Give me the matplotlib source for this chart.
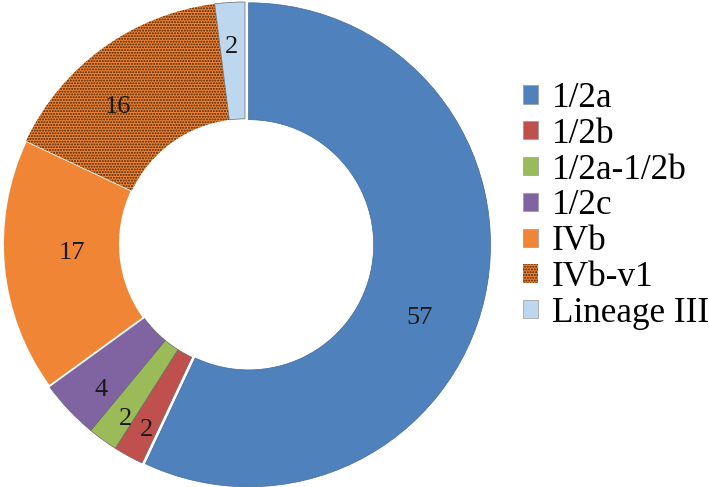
import numpy as np
import matplotlib.pyplot as plt
from matplotlib.patches import Patch

# date
categorii = ['1/2a', '1/2b', '1/2a-1/2b', '1/2c', 'IVb', 'IVb-v1', 'Lineage III']
valori = [57, 2, 2, 4, 17, 16, 2]
culori = ['#4F81BD', '#C0504D', '#9BBB59', '#8064A2', '#EF8535', '#EF8535', '#BDD7EE']

# pozitia etichetelor (raza relativa si decalaj de unghi)
raze_etichete = [0.785, 0.87, 0.876, 0.85, 0.715, 0.773, 0.814]
decalaj_unghi = [-10.3, 0.9, 1.8, 2.2, -2.4, 6.8, 0.4]

plt.rcParams['font.family'] = ['Liberation Serif', 'DejaVu Serif']

W, H = 709, 487
fig = plt.figure(figsize=(W / 100, H / 100), dpi=100)

R = 242.0
cx, cy = 245.0, 243.0
L = 1.03
size = 2 * L * R
ax = fig.add_axes([(cx - size / 2) / W, (cy - size / 2) / H, size / W, size / H])

wedges, _ = ax.pie(valori, colors=culori, startangle=90, counterclock=False,
                   radius=1.0, explode=[0.015, 0, 0, 0, 0, 0, 0],
                   wedgeprops=dict(width=0.483, edgecolor='#6a6a6a', linewidth=0.5))

# IVb cu margine alba, IVb-v1 cu puncte
wedges[4].set_edgecolor('white')
wedges[4].set_linewidth(1.3)
wedges[5].set_hatch('......')
wedges[5].set_edgecolor('#4a2206')
wedges[5].set_linewidth(0)
wedges[0].set_edgecolor('#3f6a9c')

for w, v, r, d in zip(wedges, valori, raze_etichete, decalaj_unghi):
    ang = np.deg2rad((w.theta1 + w.theta2) / 2 + d)
    ax.text(r * np.cos(ang), r * np.sin(ang), str(v), ha='center', va='center',
            fontsize=19, color='#1a1a1a')

ax.set_xlim(-L, L)
ax.set_ylim(-L, L)
ax.set_aspect('equal')
ax.axis('off')

handles = []
for i, c in enumerate(culori):
    p = Patch(facecolor=c, edgecolor='#9a9a9a', linewidth=0.5)
    if i == 5:
        p = Patch(facecolor=c, edgecolor='#4a2206', linewidth=0, hatch='......')
    handles.append(p)

fig.legend(handles, categorii, loc='center left',
           bbox_to_anchor=(523 / W, 1 - 206 / H), frameon=False,
           fontsize=25.3, handlelength=0.42, handleheight=0.42,
           handletextpad=0.4, labelspacing=0.08, borderpad=0, borderaxespad=0)

fig.savefig('out.png', dpi=100)
